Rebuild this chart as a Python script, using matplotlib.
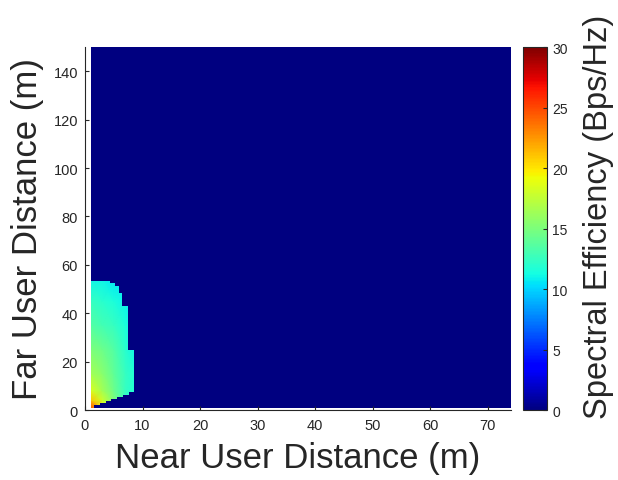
import matplotlib
matplotlib.use('Agg')
import matplotlib.pyplot as plt
import numpy as np
from matplotlib.patches import Polygon

plt.rcParams['font.family'] = ['Liberation Sans', 'DejaVu Sans']

# extent of the simulated grid (m)
near_range = [1, 74]
far_range = [1, 150]

# spectral efficiency (Bps/Hz) read at coarse nodes inside the feasible region
near_nodes = [1, 3, 5, 7, 9]
far_nodes = [1, 4, 8, 15, 25, 35, 45, 55]
se_values = [
    [25.0, 19.0, 15.0, 12.0, 11.0],
    [21.0, 18.0, 15.0, 12.5, 11.0],
    [18.5, 16.5, 14.5, 12.5, 11.5],
    [16.5, 15.5, 14.0, 12.5, 11.5],
    [15.0, 14.5, 13.5, 12.0, 11.0],
    [13.5, 13.0, 12.5, 11.5, 11.0],
    [12.5, 12.0, 11.5, 11.0, 10.5],
    [11.0, 11.0, 10.5, 10.5, 10.0],
]

# outline of the region where efficiency is non-zero (staircase from the grid)
region_near = [1, 1.6, 1.6, 2.6, 2.6, 3.6, 3.6, 4.6, 4.6, 5.6, 5.6, 6.6, 6.6, 7.6, 7.6,
               8.6, 8.6, 7.4, 7.4, 6.5, 6.5, 5.9, 5.9, 5.2, 5.2, 4.3, 4.3, 1]
region_far = [1, 1, 1.9, 1.9, 2.8, 2.8, 3.7, 3.7, 4.6, 4.6, 5.5, 5.5, 6.4, 6.4, 7.3,
              7.3, 24.7, 24.7, 42.8, 42.8, 48.5, 48.5, 51.2, 51.2, 52.5, 52.5, 53.5, 53.5]

fig = plt.figure(figsize=(6.18, 4.81), dpi=100)
ax = fig.add_axes([0.1375, 0.1455, 0.6893, 0.7547])
cax = fig.add_axes([0.846, 0.1455, 0.039, 0.7547])

cmap = plt.get_cmap('jet')
bg = ax.pcolormesh(near_range, far_range, [[0]], cmap=cmap, vmin=0, vmax=30)

X, Y = np.meshgrid(near_nodes, far_nodes)
mesh = ax.pcolormesh(X, Y, np.array(se_values), shading='gouraud', cmap=cmap, vmin=0, vmax=30)
clip = Polygon(np.column_stack([region_near, region_far]), closed=True,
               transform=ax.transData, fill=False, edgecolor='none')
ax.add_patch(clip)
mesh.set_clip_path(clip)

ax.set_xlim(0, 74)
ax.set_ylim(0, 150)
ax.set_xticks(range(0, 71, 10))
ax.set_yticks(range(0, 141, 20))
tc = (0.15, 0.15, 0.15)
ax.tick_params(direction='in', length=3, labelsize=10.5, colors=tc)
ax.tick_params(axis='x', pad=6)
ax.tick_params(axis='y', pad=5)
for s in ['top', 'right']:
    ax.spines[s].set_visible(False)
for s in ['left', 'bottom']:
    ax.spines[s].set_color(tc)
ax.set_xlabel('Near User Distance (m)', fontsize=25, color=tc, labelpad=6)
ax.set_ylabel('Far User Distance (m)', fontsize=25, color=tc, labelpad=7)

cb = fig.colorbar(bg, cax=cax)
cb.set_ticks(range(0, 31, 5))
cb.ax.tick_params(direction='in', length=3, labelsize=10, colors=tc, pad=4)
cb.outline.set_edgecolor(tc)
cb.set_label('Spectral Efficiency (Bps/Hz)', fontsize=23.5, color=tc)
cb.ax.yaxis.set_label_coords(2.5, 0.535)

fig.savefig('out.png', dpi=100)
